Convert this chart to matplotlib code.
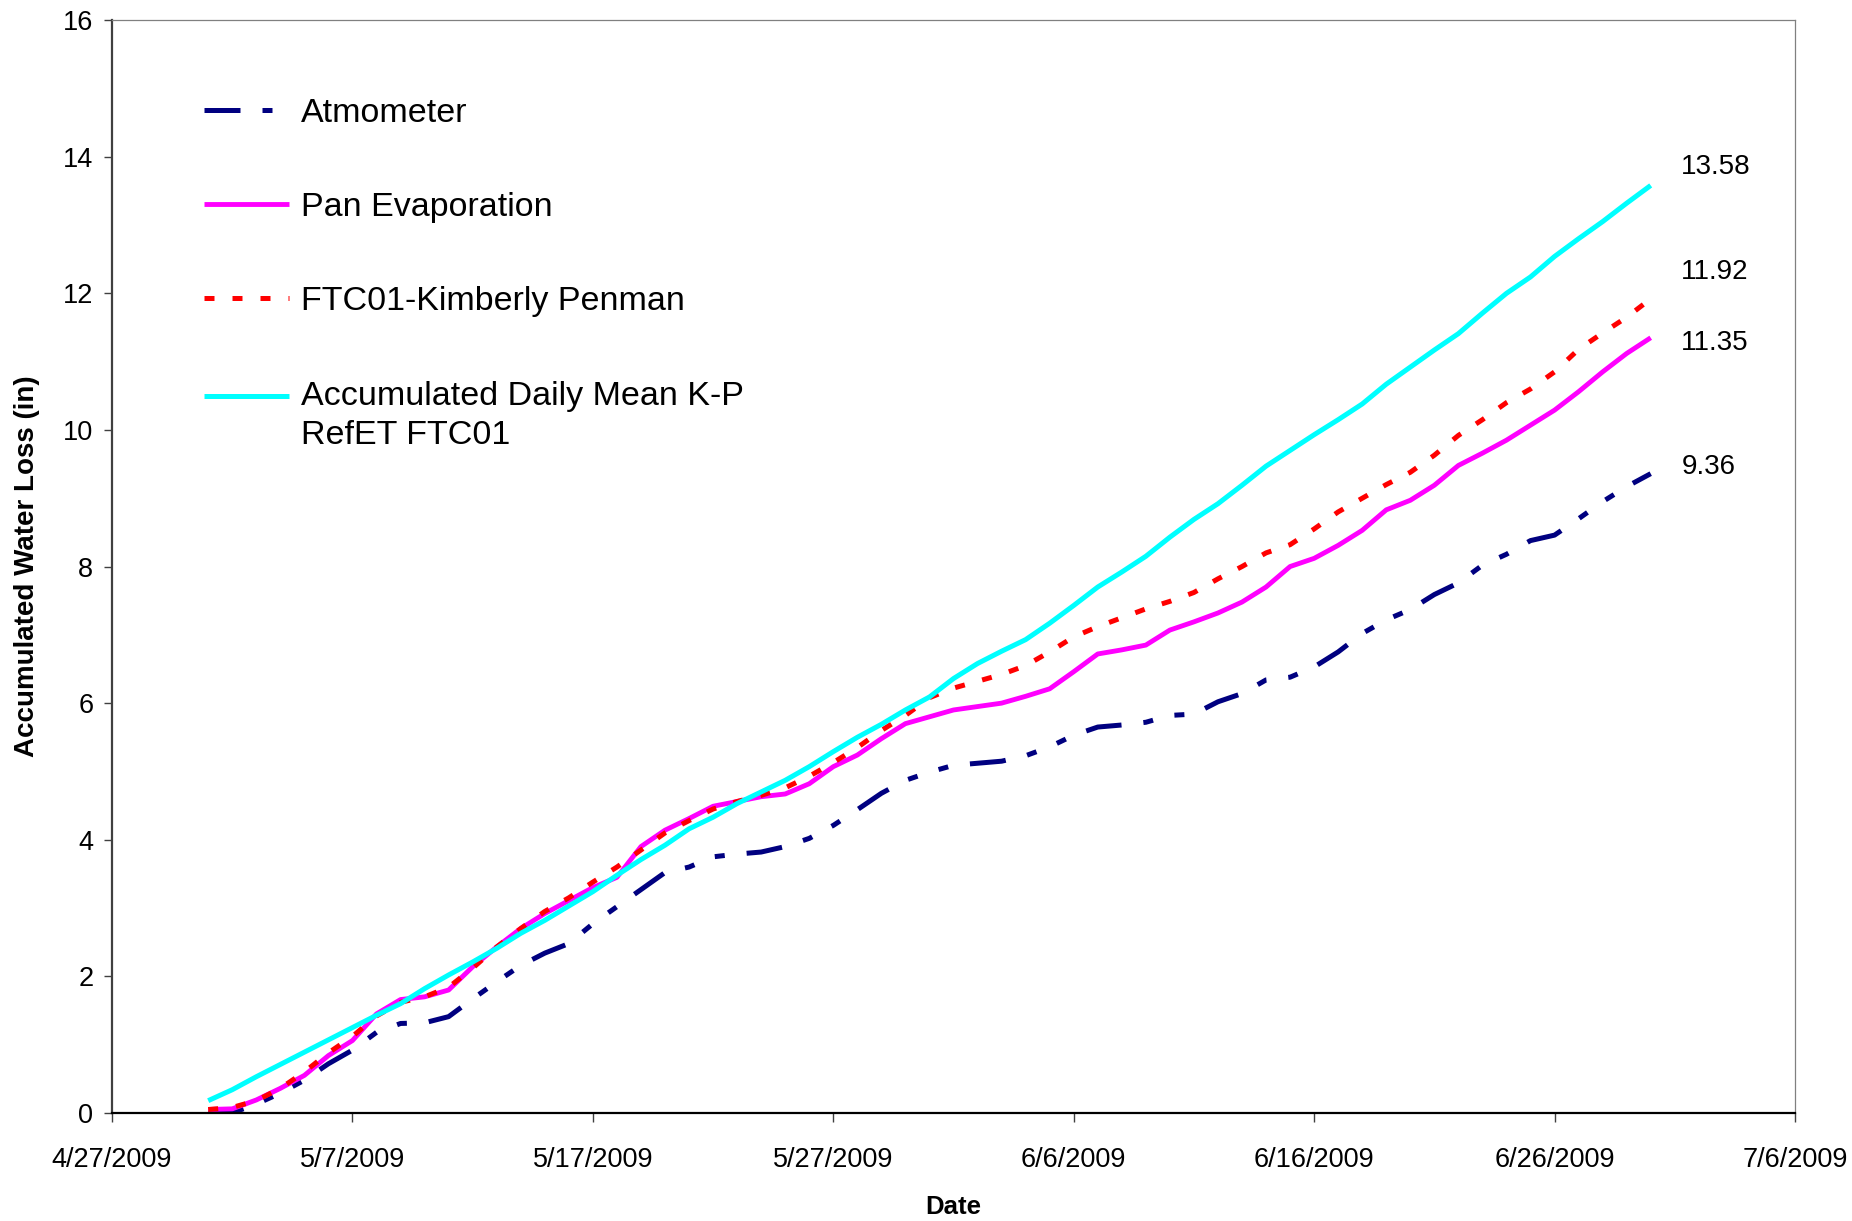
import matplotlib
matplotlib.use('Agg')
import pandas as pd
import matplotlib.pyplot as plt
import matplotlib.dates as mdates
from matplotlib.ticker import FuncFormatter

plt.rcParams['font.family'] = ['Liberation Sans', 'DejaVu Sans']

# daily values 5/1/2009 .. 6/30/2009
dates = pd.date_range('2009-05-01', '2009-06-30', freq='D')

atmometer = [0.00, 0.00, 0.13, 0.29, 0.48, 0.72, 0.92, 1.18, 1.31, 1.32,
             1.41, 1.67, 1.92, 2.16, 2.34, 2.48, 2.77, 3.02, 3.27, 3.52,
             3.60, 3.75, 3.79, 3.82, 3.90, 4.02, 4.21, 4.44, 4.68, 4.87,
             4.99, 5.09, 5.12, 5.15, 5.23, 5.36, 5.53, 5.65, 5.68, 5.72,
             5.82, 5.84, 6.02, 6.14, 6.34, 6.38, 6.53, 6.75, 7.02, 7.22,
             7.37, 7.59, 7.76, 8.02, 8.18, 8.38, 8.46, 8.70, 8.95, 9.17,
             9.36]

pan_evap = [0.05, 0.06, 0.19, 0.36, 0.55, 0.84, 1.06, 1.45, 1.66, 1.70,
            1.80, 2.14, 2.43, 2.70, 2.92, 3.11, 3.30, 3.45, 3.90, 4.14,
            4.31, 4.49, 4.56, 4.63, 4.67, 4.82, 5.07, 5.24, 5.48, 5.70,
            5.80, 5.90, 5.95, 6.00, 6.10, 6.21, 6.46, 6.72, 6.78, 6.85,
            7.07, 7.19, 7.32, 7.48, 7.70, 8.00, 8.12, 8.31, 8.53, 8.83,
            8.97, 9.19, 9.48, 9.66, 9.85, 10.07, 10.29, 10.56, 10.85, 11.12,
            11.35]

kimberly_penman = [0.05, 0.08, 0.18, 0.36, 0.60, 0.88, 1.12, 1.42, 1.62, 1.70,
                   1.84, 2.12, 2.43, 2.70, 2.95, 3.15, 3.38, 3.60, 3.85, 4.10,
                   4.28, 4.45, 4.56, 4.65, 4.76, 4.93, 5.13, 5.35, 5.60, 5.82,
                   6.08, 6.22, 6.32, 6.42, 6.55, 6.75, 6.97, 7.12, 7.25, 7.38,
                   7.49, 7.62, 7.82, 8.00, 8.20, 8.32, 8.55, 8.80, 9.00, 9.20,
                   9.38, 9.63, 9.92, 10.15, 10.40, 10.60, 10.85, 11.18, 11.42, 11.65,
                   11.92]

refet_mean = [0.18, 0.34, 0.53, 0.71, 0.89, 1.07, 1.25, 1.43, 1.60, 1.82,
              2.02, 2.21, 2.41, 2.63, 2.82, 3.03, 3.24, 3.48, 3.71, 3.92,
              4.16, 4.33, 4.53, 4.70, 4.87, 5.07, 5.29, 5.50, 5.69, 5.90,
              6.09, 6.36, 6.58, 6.76, 6.93, 7.17, 7.43, 7.70, 7.92, 8.15,
              8.43, 8.69, 8.92, 9.19, 9.47, 9.70, 9.93, 10.15, 10.38, 10.67,
              10.92, 11.17, 11.41, 11.71, 12.00, 12.24, 12.54, 12.80, 13.05, 13.32,
              13.58]

labels = ['Atmometer', 'Pan Evaporation', 'FTC01-Kimberly Penman',
          'Accumulated Daily Mean K-P\nRefET FTC01']
colors = ['#000080', '#FF00FF', '#FF0000', '#00FFFF']
styles = [(0, (7.2, 4.4, 2, 4.4, 2, 4.4)), '-', (0, (2, 3.6)), '-']
widths = [3.6, 3.5, 3.6, 3.6]
# offsets (points) of the end-value labels
label_offsets = [(22, 5), (22, -4), (22, 19), (22, 13)]

x_ticks = pd.date_range('2009-04-27', '2009-07-06', freq='10D')

fig = plt.figure(figsize=(18.52, 12.21), dpi=100)
ax = fig.add_axes([0.0605, 0.0885, 0.9087, 0.895])

all_series = [atmometer, pan_evap, kimberly_penman, refet_mean]
for vals, lab, col, ls, lw, off in zip(all_series, labels, colors, styles, widths, label_offsets):
    ax.plot(dates, vals, color=col, linestyle=ls, linewidth=lw, label=lab,
            dash_capstyle='butt', solid_capstyle='butt')
    ax.annotate(f'{vals[-1]:.2f}', xy=(dates[-1], vals[-1]), xytext=off,
                textcoords='offset points', ha='left', va='center', fontsize=20)

ax.set_xlim(x_ticks[0], x_ticks[-1])
ax.set_ylim(0, 16)
ax.set_xticks(x_ticks)
ax.xaxis.set_major_formatter(FuncFormatter(
    lambda v, p: (lambda d: f'{d.month}/{d.day}/{d.year}')(mdates.num2date(v))))
ax.set_yticks(range(0, 17, 2))

ax.tick_params(axis='y', length=5.5, width=1, pad=8, labelsize=19.5, color='#404040')
ax.tick_params(axis='x', length=6.7, width=1, pad=18, labelsize=19.5, color='#404040')

ax.spines['left'].set_color('#404040')
ax.spines['left'].set_linewidth(1.6)
ax.spines['bottom'].set_color('black')
ax.spines['bottom'].set_linewidth(1.6)
for s in ['top', 'right']:
    ax.spines[s].set_color('#808080')
    ax.spines[s].set_linewidth(0.9)

ax.set_xlabel('Date', fontsize=18.5, fontweight='bold')
ax.xaxis.set_label_coords(0.5, -0.075)
ax.set_ylabel('Accumulated Water Loss (in)', fontsize=20, fontweight='bold')
ax.yaxis.set_label_coords(-0.0429, 0.5)

leg = ax.legend(loc='upper left', bbox_to_anchor=(0.0545, 0.929), frameon=False,
                fontsize=24.5, handlelength=2.5, handletextpad=0.35, labelspacing=1.86,
                borderpad=0, borderaxespad=0)
leg.get_texts()[-1].set_linespacing(1.35)
# two-line entry: put its handle level with the first line, as in the original
last = leg.get_lines()[-1]
last.set_ydata([y + 14 for y in last.get_ydata()])

fig.savefig('out.png', dpi=100)
